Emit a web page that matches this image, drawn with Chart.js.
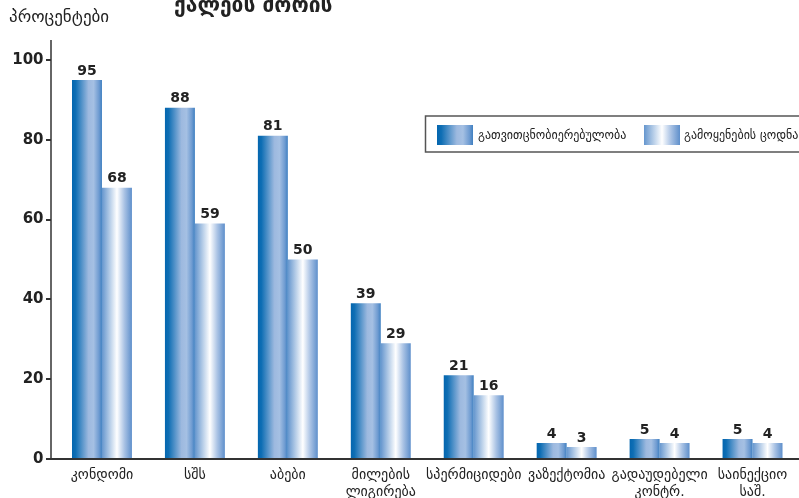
<!DOCTYPE html>
<html>
<head>
<meta charset="utf-8">
<script src="https://cdn.jsdelivr.net/npm/chart.js@4/dist/chart.umd.min.js"></script>
<style>
    html, body { margin: 0; padding: 0; background: #fff; }
    #wrap { width: 799px; height: 498px; position: relative; }
</style>
</head>
<body>
<div id="wrap"><canvas id="chart"></canvas></div>
<script>
const categories = [
    'კონდომი', 'სშს', 'აბები', ['მილების', 'ლიგირება'], 'სპერმიციდები',
    'ვაზექტომია', ['გადაუდებელი', 'კონტრ.'], ['საინექციო', 'საშ.']
];
const awareness = [95, 88, 81, 39, 21, 4, 5, 5];
const knowledge = [68, 59, 50, 29, 16, 3, 4, 4];
const seriesNames = ['გათვითცნობიერებულობა', 'გამოყენების ცოდნა'];
const yTicks = [0, 20, 40, 60, 80, 100];

const CAT_PCT = 0.645;
const FONT = '"DejaVu Sans", Verdana, sans-serif';

const gradStops = [
    [[0, '#0466af'], [0.12, '#0e6eb4'], [0.55, '#9db9df'], [0.72, '#a5c0e3'], [0.9, '#6e9bd1'], [1, '#3f80c1']],
    [[0, '#6596ce'], [0.5, '#ffffff'], [0.75, '#a9c2e4'], [1, '#5e8fcb']]
];

function makeGrad(ctx, x0, x1, stops) {
    const g = ctx.createLinearGradient(x0, 0, x1, 0);
    stops.forEach(([o, c]) => g.addColorStop(o, c));
    return g;
}

function barFill(c, ds) {
    const chart = c.chart;
    const xs = chart.scales.x;
    if (!xs || !xs.width || c.type !== 'data') return gradStops[ds][0][1];
    const center = xs.getPixelForValue(c.dataIndex);
    const bw = xs.width / categories.length * CAT_PCT / 2;
    const left = ds === 0 ? center - bw : center;
    return makeGrad(chart.ctx, left, left + bw, gradStops[ds]);
}

const decorations = {
    id: 'decorations',
    afterDatasetsDraw(chart) {
        const ctx = chart.ctx;
        const area = chart.chartArea;
        const ys = chart.scales.y;
        ctx.save();

        // value labels
        ctx.fillStyle = '#222';
        ctx.font = 'bold 14px ' + FONT;
        ctx.textAlign = 'center';
        ctx.textBaseline = 'bottom';
        chart.data.datasets.forEach((ds, di) => {
            chart.getDatasetMeta(di).data.forEach((bar, i) => {
                ctx.fillText(String(ds.data[i]), bar.x, bar.y - 2);
            });
        });

        // axes
        const axisX = 51;
        ctx.strokeStyle = '#333';
        ctx.lineWidth = 1.5;
        ctx.beginPath();
        ctx.moveTo(axisX, ys.getPixelForValue(ys.max));
        ctx.lineTo(axisX, area.bottom);
        ctx.stroke();
        ctx.lineWidth = 2;
        ctx.beginPath();
        yTicks.forEach(v => {
            const y = Math.round(ys.getPixelForValue(v));
            ctx.moveTo(axisX - 5, y);
            ctx.lineTo(axisX, y);
        });
        ctx.moveTo(axisX - 5, area.bottom);
        ctx.lineTo(chart.width, area.bottom);
        ctx.stroke();

        // titles
        ctx.textAlign = 'left';
        ctx.textBaseline = 'alphabetic';
        ctx.fillStyle = '#222';
        ctx.font = '17px ' + FONT;
        ctx.fillText('პროცენტები', 9, 22);
        ctx.font = 'bold 21px ' + FONT;
        ctx.fillText('ქალებს შორის', 174, 12);

        // legend
        ctx.strokeStyle = '#555';
        ctx.lineWidth = 1.5;
        ctx.strokeRect(425.5, 116, 390, 36);
        const items = [{ x: 437, tx: 478 }, { x: 644, tx: 684 }];
        ctx.font = '12px ' + FONT;
        ctx.textBaseline = 'middle';
        items.forEach((it, i) => {
            ctx.fillStyle = makeGrad(ctx, it.x, it.x + 36, gradStops[i]);
            ctx.fillRect(it.x, 125, 36, 20);
            ctx.fillStyle = '#222';
            ctx.fillText(chart.data.datasets[i].label, it.tx, 136);
        });
        ctx.restore();
    }
};

new Chart(document.getElementById('chart'), {
    type: 'bar',
    data: {
        labels: categories,
        datasets: [
            { label: seriesNames[0], data: awareness, backgroundColor: c => barFill(c, 0) },
            { label: seriesNames[1], data: knowledge, backgroundColor: c => barFill(c, 1) }
        ]
    },
    options: {
        responsive: true,
        maintainAspectRatio: false,
        animation: false,
        categoryPercentage: CAT_PCT,
        barPercentage: 1,
        layout: { padding: { top: 40, right: 0, left: 0, bottom: 0 } },
        plugins: { legend: { display: false }, tooltip: { enabled: false } },
        scales: {
            x: {
                grid: { display: false, drawTicks: false },
                border: { display: false },
                ticks: { color: '#222', font: { family: FONT, size: 14, lineHeight: 1.2 }, padding: 8, maxRotation: 0, autoSkip: false },
                afterFit: s => { s.height = 39; }
            },
            y: {
                min: 0,
                max: 105,
                grid: { display: false, drawTicks: false },
                border: { display: false },
                afterBuildTicks: s => { s.ticks = yTicks.map(v => ({ value: v })); },
                ticks: { color: '#222', font: { family: FONT, size: 15, weight: 'bold' }, padding: 12 },
                afterFit: s => { s.width = 55.5; }
            }
        }
    },
    plugins: [decorations]
});
</script>
</body>
</html>
